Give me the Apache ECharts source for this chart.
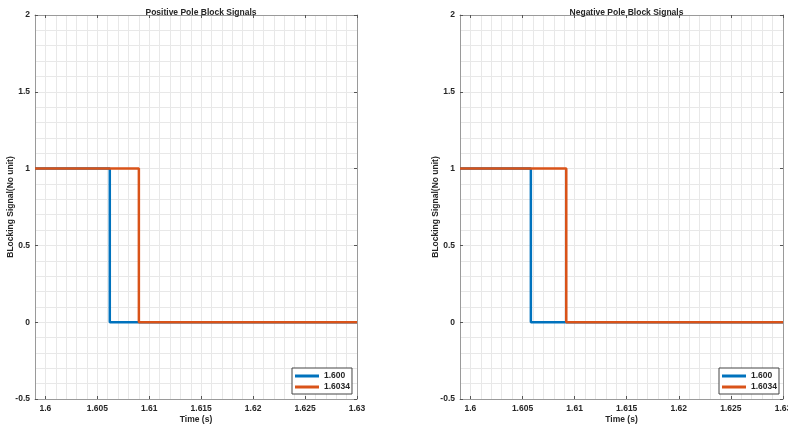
<!DOCTYPE html>
<html><head><meta charset="utf-8">
<script src="https://cdn.jsdelivr.net/npm/echarts@6/dist/echarts.min.js"></script>
<style>html,body{margin:0;padding:0;background:#fff}#c{width:788px;height:428px}</style>
</head><body><div id="c"></div>
<script>
// ---- data ----
const seriesNames = ['1.600', '1.6034'];
const titles = ['Positive Pole Block Signals', 'Negative Pole Block Signals'];
// step signals: [time, value] breakpoints (value holds until next time)
const posTimes1600 = [1.599, 1.6062, 1.63];
const posVals1600 = [1, 0, 0];
const posTimes16034 = [1.599, 1.6090, 1.63];
const posVals16034 = [1, 0, 0];
const negTimes1600 = [1.599, 1.6058, 1.63];
const negVals1600 = [1, 0, 0];
const negTimes16034 = [1.599, 1.6092, 1.63];
const negVals16034 = [1, 0, 0];
const xMajorTicks = [1.6, 1.605, 1.61, 1.615, 1.62, 1.625, 1.63];
const xMin = 1.599, xMax = 1.63;
const yMin = -0.5, yMax = 2;

const colors = ['#0072BD', '#D95319'];
const TXT = '#262626', BOX = '#9a9a9a', GRID = '#e8e8e8';
const FONT = 'Liberation Sans, Arial, sans-serif';

function pairs(t, v) { return t.map((x, i) => [x, v[i]]); }

const grids = [
  { left: 35, top: 15, width: 322, height: 384, outerBoundsMode: 'none', containLabel: false },
  { left: 460, top: 15, width: 323, height: 384, outerBoundsMode: 'none', containLabel: false }
];
const legendPos = [{ left: 292, top: 368 }, { left: 719, top: 368 }];

const xAxes = [], yAxes = [], series = [], titleArr = [], legends = [];
const dataSets = [
  [pairs(posTimes1600, posVals1600), pairs(posTimes16034, posVals16034)],
  [pairs(negTimes1600, negVals1600), pairs(negTimes16034, negVals16034)]
];
const fmtX = v => String(Number(v.toFixed(3)));

grids.forEach((g, gi) => {
  const xi = xAxes.length;
  xAxes.push({
    type: 'value', gridIndex: gi, position: 'bottom', min: xMin, max: xMax, interval: 0.001,
    axisLine: { show: true, onZero: false, lineStyle: { color: BOX, width: 1 } },
    axisTick: { show: true, inside: true, length: 3, customValues: xMajorTicks, lineStyle: { color: '#555' } },
    axisLabel: { show: true, customValues: xMajorTicks, formatter: fmtX, color: TXT, fontSize: 8.5, fontWeight: 'bold', fontFamily: FONT, margin: 5 },
    splitLine: { show: false },
    name: 'Time (s)', nameLocation: 'middle', nameGap: 16, nameMoveOverlap: false,
    nameTextStyle: { color: TXT, fontSize: 8.5, fontWeight: 'bold', fontFamily: FONT }
  });
  xAxes.push({
    type: 'value', gridIndex: gi, position: 'top', min: xMin, max: xMax, interval: 0.001,
    axisLine: { show: true, onZero: false, lineStyle: { color: BOX, width: 1 } },
    axisTick: { show: true, inside: true, length: 3, customValues: xMajorTicks, lineStyle: { color: '#555' } },
    axisLabel: { show: false }, splitLine: { show: false }
  });
  xAxes.push({
    type: 'value', gridIndex: gi, position: 'bottom', min: xMin, max: xMax, interval: 0.001,
    axisLine: { show: false }, axisTick: { show: false }, axisLabel: { show: false },
    splitLine: { show: true, lineStyle: { color: GRID, width: 1 } }
  });
  const yi = yAxes.length;
  yAxes.push({
    type: 'value', gridIndex: gi, position: 'left', min: yMin, max: yMax, interval: 0.5,
    axisLine: { show: true, onZero: false, lineStyle: { color: BOX, width: 1 } },
    axisTick: { show: true, inside: true, length: 3, lineStyle: { color: '#555' } },
    axisLabel: { color: TXT, fontSize: 8.5, fontWeight: 'bold', fontFamily: FONT, margin: 5, formatter: v => String(v) },
    splitLine: { show: true, lineStyle: { color: GRID, width: 1 } },
    minorTick: { show: false, splitNumber: 5 },
    minorSplitLine: { show: true, lineStyle: { color: GRID, width: 1 } },
    name: 'BLocking Signal(No unit)', nameLocation: 'middle', nameGap: 20, nameRotate: 90, nameMoveOverlap: false,
    nameTextStyle: { color: TXT, fontSize: 8.5, fontWeight: 'bold', fontFamily: FONT }
  });
  yAxes.push({
    type: 'value', gridIndex: gi, position: 'right', min: yMin, max: yMax, interval: 0.5,
    axisLine: { show: true, onZero: false, lineStyle: { color: BOX, width: 1 } },
    axisTick: { show: true, inside: true, length: 3, lineStyle: { color: '#555' } },
    axisLabel: { show: false }, splitLine: { show: false }
  });
  dataSets[gi].forEach((d, si) => {
    series.push({
      type: 'line', name: seriesNames[si], xAxisIndex: xi, yAxisIndex: yi,
      data: d, step: 'end', symbol: 'none', color: colors[si],
      lineStyle: { width: 2.5, color: colors[si] }, z: 3 + si, animation: false
    });
  });
  titleArr.push({
    text: titles[gi], left: g.left + g.width / 2, top: 3, textAlign: 'center',
    textStyle: { color: TXT, fontSize: 8.5, fontWeight: 'bold', fontFamily: FONT }
  });
  legends.push({
    data: seriesNames, orient: 'vertical', left: legendPos[gi].left, top: legendPos[gi].top,
    padding: [3, 2, 2, 3], itemGap: 1, itemWidth: 24, itemHeight: 3, icon: 'rect',
    borderColor: '#444', borderWidth: 1, backgroundColor: '#fff',
    textStyle: { color: TXT, fontSize: 8.5, fontWeight: 'bold', fontFamily: FONT, lineHeight: 10 },
    selectedMode: false
  });
});

const chart = echarts.init(document.getElementById('c'), null, { renderer: 'canvas' });
chart.setOption({
  animation: false, backgroundColor: '#fff',
  title: titleArr, legend: legends, grid: grids, xAxis: xAxes, yAxis: yAxes, series: series
});
</script></body></html>
